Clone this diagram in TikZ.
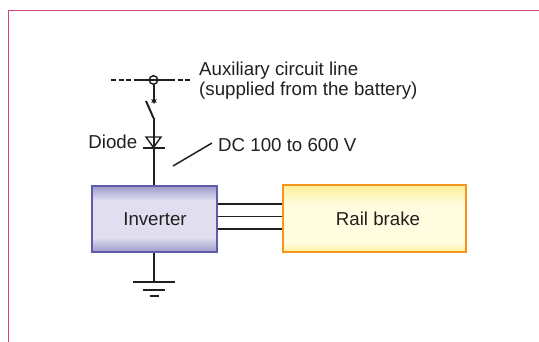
\documentclass[tikz,border=0pt]{standalone}
\usepackage{fontspec}
\setmainfont{Liberation Sans}
\usepackage{tikz}
\usetikzlibrary{shapes.geometric}
\definecolor{inkline}{HTML}{231F20}
\definecolor{framepink}{HTML}{D9447F}
\definecolor{invborder}{HTML}{5F5CAC}
\definecolor{invedge}{HTML}{9D9ACB}
\definecolor{invfill}{HTML}{E0DEEF}
\definecolor{brakeborder}{HTML}{F7941E}
\definecolor{brakeedge}{HTML}{FFF09A}
\definecolor{brakefill}{HTML}{FFFCE0}
\pgfdeclareverticalshading{invshade}{100bp}{color(0bp)=(invedge); color(25bp)=(invedge); color(36bp)=(invfill); color(64bp)=(invfill); color(75bp)=(invedge); color(100bp)=(invedge)}
\pgfdeclareverticalshading{brakeshade}{100bp}{color(0bp)=(brakeedge); color(25bp)=(brakeedge); color(32bp)=(brakefill); color(60bp)=(brakefill); color(75bp)=(brakeedge); color(100bp)=(brakeedge)}
\tikzset{
  wire/.style={line width=2pt,draw=inkline},
  label/.style={font=\fontsize{18.7}{22}\selectfont,text=inkline,inner sep=0pt},
  unit/.style={draw,line width=1.6pt,inner sep=0pt,font=\fontsize{18.7}{22}\selectfont,text=inkline}
}

\begin{document}
\begin{tikzpicture}[x=1pt,y=-1pt]
  \useasboundingbox (0,0) rectangle (539,342);
  \draw[framepink,line width=1.5pt] (8.5,342) -- (8.5,10.5) -- (539,10.5);
  \node[unit,draw=invborder,shading=invshade,minimum width=125pt,minimum height=66pt] (inv) at (154.5,219) {\hspace*{1pt}\raisebox{-1.5pt}{Inverter}};
  \node[unit,draw=brakeborder,shading=brakeshade,minimum width=183pt,minimum height=67pt] (brake) at (374.5,218.5) {\hspace*{7pt}Rail brake};
  \foreach \ly in {204,216.5,229}
    \draw[wire,line width=1.7pt] (inv.east |- 0,\ly) -- (brake.west |- 0,\ly);
  % auxiliary line and switch
  \node[draw=inkline,circle,line width=1.5pt,minimum size=8.5pt,inner sep=0pt] (tap) at (153.5,80) {};
  \coordinate (auxl) at (111,80);
  \coordinate (auxr) at (192,80);
  \coordinate (auxa) at (137,80);
  \coordinate (auxb) at (170,80);
  \coordinate (swtop) at (153.5,100);
  \coordinate (swfree) at (146,101);
  \coordinate (swhinge) at (153.5,118);
  \draw[wire,dash pattern=on 5pt off 2.5pt] (auxl) -- (auxa);
  \draw[wire,dash pattern=on 5pt off 2.5pt] (auxb) -- (auxr);
  \draw[wire] (auxa) -- (auxb);
  \draw[wire] (tap) -- (swtop);
  \node[star,star points=6,star point ratio=2,fill=inkline,minimum size=6.5pt,inner sep=0pt] (contact) at (154,101) {};
  \draw[wire] (swfree) -- (swhinge);
  % diode
  \coordinate (dtl) at (146,137);
  \coordinate (dtr) at (161,137);
  \coordinate (dtip) at (153.5,147.5);
  \coordinate (dbl) at (143,148);
  \coordinate (dbr) at (165,148);
  \draw[wire] (swhinge) -- (inv.north -| swhinge);
  \draw[line width=1.4pt,draw=inkline] (dtl) -- (dtr) -- (dtip) -- cycle;
  \draw[wire,line width=2.2pt] (dbl) -- (dbr);
  % ground
  \coordinate (gnd) at (153.5,282);
  \draw[wire] (inv.south -| gnd) -- (gnd);
  \draw[wire] (133,282) -- (175,282);
  \draw[wire] (143,290) -- (165,290);
  \draw[wire] (150,296.5) -- (159,296.5);
  % labels
  \node[label,anchor=west] (aux) at (199,71) {Auxiliary circuit line};
  \node[label,anchor=west] (sup) at (199,90.5) {(supplied from the battery)};
  \node[label,anchor=east] (dio) at (137.5,142) {Diode};
  \node[label,anchor=west] (dc) at (218,145.5) {DC 100 to 600 V};
  \coordinate (dcend) at (173,166);
  \draw[wire,line width=1.5pt] (dcend) -- ([xshift=-6pt,yshift=2.5pt]dc.west);
\end{tikzpicture}
\end{document}
